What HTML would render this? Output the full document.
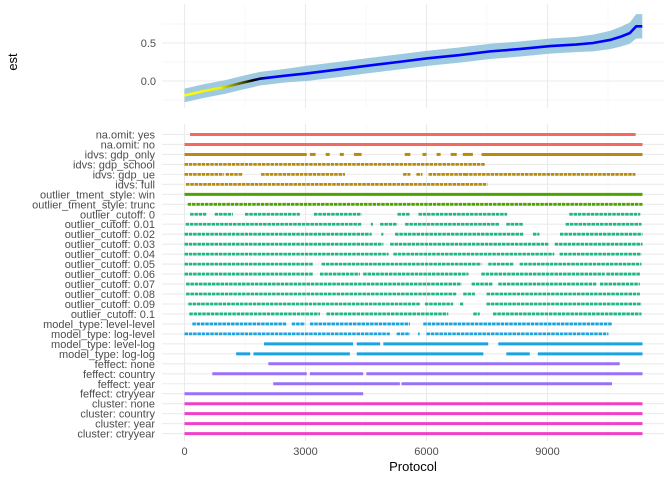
<!DOCTYPE html>
<html><head><meta charset="utf-8"><style>
body{margin:0;background:#fff;}
svg{display:block;font-family:"Liberation Sans",sans-serif;}
</style></head><body>
<svg id="chart" width="672" height="480">
<defs>
<linearGradient id="estgrad" gradientUnits="userSpaceOnUse" x1="184" y1="0" x2="642" y2="0">
<stop offset="0" stop-color="#ffff00"/><stop offset="0.08" stop-color="#eeee00"/>
<stop offset="0.15" stop-color="#000000"/><stop offset="0.19" stop-color="#0000ff"/><stop offset="1" stop-color="#0000ff"/>
</linearGradient>
</defs>
</svg>
<script>
// ---- data ----
const estX = [0,500,1000,1460,1870,2500,3030,3800,4520,5300,6050,6800,7580,8300,9070,9700,10130,10550,10800,11040,11200,11350];
const estY = [-0.19,-0.13,-0.08,-0.02,0.03,0.07,0.10,0.15,0.20,0.25,0.30,0.34,0.39,0.42,0.46,0.48,0.50,0.54,0.58,0.63,0.72,0.72];
const ciHalf = [0.09,0.09,0.09,0.09,0.09,0.09,0.1,0.1,0.1,0.1,0.1,0.1,0.1,0.1,0.1,0.1,0.11,0.12,0.13,0.14,0.16,0.16];
const yTicks = [0, 0.5];
const yTickLabels = ["0.0","0.5"];
const xTicks = [0,3000,6000,9000];
const xTickLabels = ["0","3000","6000","9000"];
const rowLabels = ["na.omit: yes","na.omit: no","idvs: gdp_only","idvs: gdp_school","idvs: gdp_ue","idvs: full",
"outlier_tment_style: win","outlier_tment_style: trunc","outlier_cutoff: 0","outlier_cutoff: 0.01","outlier_cutoff: 0.02",
"outlier_cutoff: 0.03","outlier_cutoff: 0.04","outlier_cutoff: 0.05","outlier_cutoff: 0.06","outlier_cutoff: 0.07",
"outlier_cutoff: 0.08","outlier_cutoff: 0.09","outlier_cutoff: 0.1","model_type: level-level","model_type: log-level",
"model_type: level-log","model_type: log-log","feffect: none","feffect: country","feffect: year","feffect: ctryyear",
"cluster: none","cluster: country","cluster: year","cluster: ctryyear"];
const rowGroups = [0,0,1,1,1,1,2,2,3,3,3,3,3,3,3,3,3,3,3,4,4,4,4,5,5,5,5,6,6,6,6];
const rowDotted = [0,0,0,1,1,1,0,1,1,1,1,1,1,1,1,1,1,1,1,1,1,0,0,0,0,0,0,0,0,0,0];
const groupColors = ["#F46A62","#B88C08","#4BA600","#1DB784","#1BA3E0","#9A70F8","#F03FC8"];
const rowIntervals = [
[[136,11185]],
[[0,11355]],
[[0,3030],[3110,3250],[3500,3600],[3850,3950],[4200,4390],[5460,5600],[5900,6000],[6250,6350],[6600,6750],[6900,7150],[7365,11355]],
[[0,7445]],
[[0,980],[1020,1450],[1900,3980],[5420,5600],[5750,5900],[6050,7000],[6950,11180]],
[[37,7510]],
[[0,11355]],
[[80,11355]],
[[140,540],[750,1200],[1500,2860],[3210,4390],[5280,5600],[5800,8000],[9540,11300]],
[[30,4390],[4620,4670],[4850,5280],[5470,7800],[7980,8400],[9450,11330]],
[[0,4640],[4880,4930],[5220,8400],[8640,8800],[9310,11355]],
[[0,4930],[5100,9020],[9180,11355]],
[[0,5060],[5180,9170],[9300,11330]],
[[0,3190],[3400,7360],[7530,8150],[8310,11330]],
[[0,3190],[3360,4350],[4430,7040],[7360,10420],[10460,11290]],
[[40,6870],[7120,7650],[7780,10210],[10300,11290]],
[[40,6740],[6910,7200],[7490,11290]],
[[95,5840],[5960,6660],[6830,6910],[7490,11330]],
[[120,3360],[3520,6540],[7160,7320],[7650,11330]],
[[195,2530],[2660,2990],[3110,5590],[5920,10600]],
[[0,5090],[5260,5590],[5790,5830],[6000,10510]],
[[1970,4180],[4270,4850],[4930,7530],[7780,11355]],
[[1280,1630],[1710,4100],[4270,7410],[7980,8560],[8760,11355]],
[[2080,10790]],
[[690,3030],[3110,4430],[4510,11355]],
[[2200,5340],[5380,10600]],
[[0,4430]],
[[0,11355]],[[0,11355]],[[0,11355]],[[0,11355]]
];
// ---- scales ----
const X0=184.5, PX=121/3000;
const xs = v => X0 + v*PX;
const ys = v => 81 - v*76;
const rowY = i => 134.5 + i*9.97;
const svg = document.getElementById('chart');
const NS="http://www.w3.org/2000/svg";
function mk(tag, attrs, parent){const e=document.createElementNS(NS,tag);for(const k in attrs)e.setAttribute(k,attrs[k]);(parent||svg).appendChild(e);return e;}
const topGrid = mk('g',{});


[-0.25,0.25,0.75].forEach(v=>mk('line',{x1:162,x2:664,y1:ys(v),y2:ys(v),stroke:'#f0f0f0','stroke-width':0.6},topGrid));
yTicks.forEach(v=>mk('line',{x1:162,x2:664,y1:ys(v),y2:ys(v),stroke:'#ebebeb','stroke-width':1.1},topGrid));
for(let v=0;v<=10500;v+=1500){const maj=v%3000===0;
 mk('line',{x1:xs(v),x2:xs(v),y1:4,y2:108,stroke:maj?'#ebebeb':'#f3f3f3','stroke-width':maj?1.1:0.6},topGrid);
 mk('line',{x1:xs(v),x2:xs(v),y1:124,y2:441,stroke:maj?'#ebebeb':'#f3f3f3','stroke-width':maj?1.1:0.6},topGrid);}
yTicks.forEach((v,i)=>{const t=mk('text',{x:156,y:ys(v)+4,'text-anchor':'end','font-size':11,fill:'#4d4d4d'});t.textContent=yTickLabels[i];
 
 });
let up=estX.map((x,i)=>xs(x)+','+ys(estY[i]+ciHalf[i]));
let lo=estX.map((x,i)=>xs(x)+','+ys(estY[i]-ciHalf[i])).reverse();
const band=mk('polygon',{points:up.concat(lo).join(' '),fill:'#9ecae1'});


const line=mk('polyline',{points:estX.map((x,i)=>xs(x)+','+ys(estY[i])).join(' '),fill:'none',stroke:'url(#estgrad)','stroke-width':2.6,'stroke-linejoin':'round'});


const yt=mk('text',{x:0,y:0,transform:'translate(17,62) rotate(-90)','text-anchor':'middle','font-size':13,fill:'#000'});
yt.textContent='est';


rowLabels.forEach((lab,i)=>{
 const y=rowY(i);
 mk('line',{x1:162,x2:664,y1:y,y2:y,stroke:'#ebebeb','stroke-width':1.1});
 const t=mk('text',{x:155,y:y+4,'text-anchor':'end','font-size':11,fill:'#4d4d4d'});t.textContent=lab;
 
 
});
rowIntervals.forEach((ivs,i)=>{
 const g=mk('g',{});
 
 
 const col=groupColors[rowGroups[i]];
 ivs.forEach(iv=>{
  const a={x1:xs(iv[0]),x2:xs(iv[1]),y1:rowY(i),y2:rowY(i),stroke:col,'stroke-width':rowDotted[i]?2.8:3};
  if(rowDotted[i]) a['stroke-dasharray']='3.5 0.8';
  mk('line',a,g);
 });
});
xTicks.forEach((v,i)=>{const t=mk('text',{x:xs(v),y:455,'text-anchor':'middle','font-size':11,fill:'#4d4d4d'});t.textContent=xTickLabels[i];
 
 });
const xt=mk('text',{x:413,y:471,'text-anchor':'middle','font-size':13,fill:'#000'});
xt.textContent='Protocol';


</script>
</body></html>
